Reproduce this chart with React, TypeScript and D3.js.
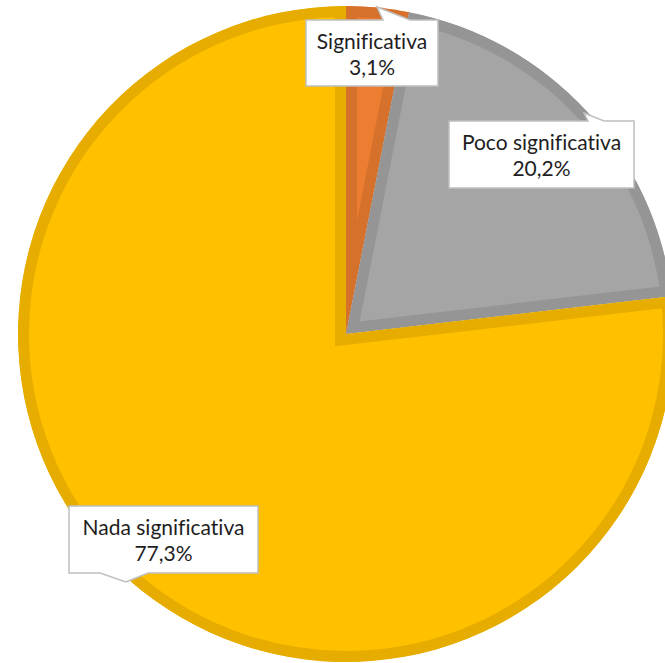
import React from "react";
import * as d3 from "d3";

// data
const categories = ["Significativa", "Poco significativa", "Nada significativa"];
const values = [3.1, 20.2, 77.3];
const valueLabels = ["3,1%", "20,2%", "77,3%"];

// styling
const fills = ["#ED7D31", "#A5A5A5", "#FFC000"];
const bands = ["#D6712C", "#959595", "#E6AD00"];

const sizing = { width: 665, height: 663, cx: 346, cy: 334, r: 328, band: 22 };

// label callouts: box (x, y, w, h) and pointer (base1, tip, base2)
const callouts = [
  { x: 306, y: 20, w: 132, h: 66, ptr: [[383, 20], [377, 7], [410, 20]] },
  { x: 449, y: 121, w: 185, h: 67, ptr: [[588, 121], [584, 113], [604, 121]] },
  { x: 69, y: 506, w: 189, h: 67, ptr: [[100, 573], [126, 582], [148, 573]] },
];

const textStyle: React.CSSProperties = {
  fontFamily: "Lato, 'Open Sans', sans-serif",
  fontSize: "21px",
  fill: "#1e1e1e",
  textAnchor: "middle",
  fontVariantLigatures: "none",
};

function PieChart() {
  const pie = d3
    .pie<number>()
    .sort(null)
    .value((d) => d);
  const arcs = pie(values);
  const arc = d3.arc<d3.PieArcDatum<number>>().innerRadius(0).outerRadius(sizing.r);

  const slices = arcs.map((a, i) => (
    <g key={`slice${i}`}>
      <clipPath id={`clip${i}`}>
        <path d={arc(a) || ""} />
      </clipPath>
      <path
        d={arc(a) || ""}
        fill={fills[i]}
        stroke={bands[i]}
        strokeWidth={sizing.band}
        clipPath={`url(#clip${i})`}
      />
    </g>
  ));

  const labels = callouts.map((c, i) => {
    const [b1, tip, b2] = c.ptr;
    let d = "";
    if (b1[1] === c.y) {
      // pointer on top edge
      d = `M${c.x},${c.y} L${b1[0]},${b1[1]} L${tip[0]},${tip[1]} L${b2[0]},${b2[1]} L${c.x + c.w},${c.y} L${c.x + c.w},${c.y + c.h} L${c.x},${c.y + c.h} Z`;
    } else {
      // pointer on bottom edge
      d = `M${c.x},${c.y} L${c.x + c.w},${c.y} L${c.x + c.w},${c.y + c.h} L${b2[0]},${b2[1]} L${tip[0]},${tip[1]} L${b1[0]},${b1[1]} L${c.x},${c.y + c.h} Z`;
    }
    const mx = c.x + c.w / 2;
    return (
      <g key={`label${i}`}>
        <path d={d} fill="white" stroke="#BFBFBF" strokeWidth={1.5} />
        <text x={mx} y={c.y + 29} style={textStyle}>
          {categories[i]}
        </text>
        <text x={mx} y={c.y + 55} style={textStyle}>
          {valueLabels[i]}
        </text>
      </g>
    );
  });

  return (
    <svg
      width={sizing.width}
      height={sizing.height}
      style={{ position: "absolute", left: 0, top: 0, background: "white" }}
    >
      <g transform={`translate(${sizing.cx},${sizing.cy})`}>{slices}</g>
      {labels}
    </svg>
  );
}

export default function App() {
  return <PieChart />;
}
